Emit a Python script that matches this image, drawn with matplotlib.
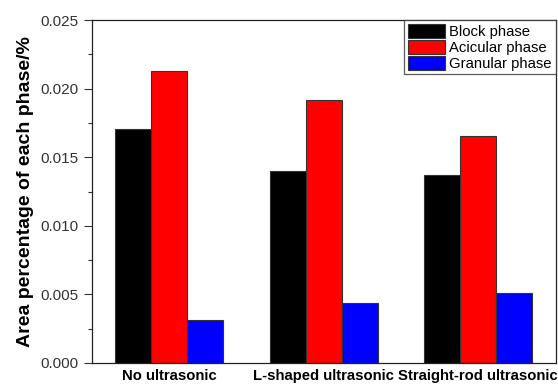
import numpy as np
import matplotlib
matplotlib.use('Agg')
import matplotlib.pyplot as plt
from matplotlib.ticker import MultipleLocator

# data
groups = ['No ultrasonic', 'L-shaped ultrasonic', 'Straight-rod ultrasonic']
block = [0.01708, 0.01399, 0.01370]
acicular = [0.02128, 0.01920, 0.01652]
granular = [0.00313, 0.00440, 0.00508]
phase_names = ['Block phase', 'Acicular phase', 'Granular phase']
colors = ['#000000', '#ff0000', '#0000ff']

plt.rcParams['font.family'] = ['Liberation Sans', 'DejaVu Sans']

fig = plt.figure(figsize=(5.58, 3.85), dpi=100)
ax = fig.add_axes([92 / 558, 1 - 363 / 385, (555.5 - 92) / 558, (363 - 20) / 385])

x = np.arange(1, len(groups) + 1)
w = 0.7 / 3
for i, (vals, name) in enumerate(zip([block, acicular, granular], phase_names)):
    ax.bar(x + (i - 1) * w, vals, width=w, color=colors[i], edgecolor='#333333',
           linewidth=0.8, label=name)

ax.set_xlim(0.5, 3.5)
ax.set_ylim(0, 0.025)
ax.set_xticks(x)
ax.set_xticklabels(groups, fontsize=10.7, fontweight='bold')
ax.tick_params(axis='x', length=0, pad=4)
ax.yaxis.set_major_locator(MultipleLocator(0.005))
ax.yaxis.set_minor_locator(MultipleLocator(0.0025))
ax.yaxis.set_major_formatter(matplotlib.ticker.FormatStrFormatter('%.3f'))
ax.tick_params(axis='y', which='major', length=6, width=0.8, labelsize=11, colors='#333333', labelcolor='#333333')
ax.tick_params(axis='y', which='minor', length=3, width=0.8, colors='#333333')
ax.set_ylabel('Area percentage of each phase/%', fontsize=14, fontweight='bold', labelpad=5)
for s in ax.spines.values():
    s.set_linewidth(0.9)
    s.set_color('#222222')

leg = ax.legend(loc='upper right', fontsize=10.7, frameon=True, fancybox=False,
                borderaxespad=0, handlelength=2.5, handleheight=1.1,
                handletextpad=0.3, labelspacing=0.05, borderpad=0.25)
leg.get_frame().set_edgecolor('#333333')
leg.get_frame().set_linewidth(0.9)

fig.savefig('out.png', dpi=100)
